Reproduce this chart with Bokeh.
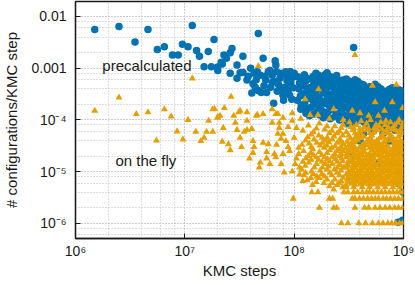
from bokeh.plotting import figure
from bokeh.models import Range1d, LogTicker, CustomJSTickFormatter, Label
from bokeh.embed import file_html
from bokeh.resources import INLINE

# ---------------- data ----------------
x_tick_values = [1e6, 1e7, 1e8, 1e9]
x_tick_labels = ["10\u2076", "10\u2077", "10\u2078", "10\u2079"]
y_tick_values = [1e-6, 1e-5, 1e-4, 1e-3, 1e-2]
y_tick_labels = ["10\u207b\u2076", "10\u207b\u2075", "10\u207b\u2074", "0.001", "0.01"]

# precalculated: sparse points at small step counts / high rates
pre_sparse = [(1.5e6, 5.6e-3), (2.5e6, 6.4e-3), (3.5e6, 3.2e-3), (4.6e6, 5.6e-3), (5.6e6, 2.3e-3),
              (6.5e6, 2.6e-3), (7.7e6, 1.8e-3), (8.7e6, 1.8e-3), (9.5e6, 2.9e-3), (1.07e7, 2.6e-3),
              (1.17e7, 6.7e-3), (1.28e7, 2.2e-3), (1.36e7, 1.7e-3), (1.5e7, 1.07e-3), (1.64e7, 2.1e-3),
              (1.75e7, 1.07e-3), (1.85e7, 3.6e-3), (2.0e7, 1.05e-3), (2.0e7, 9.0e-4), (2.15e7, 1.3e-3),
              (2.28e7, 1.8e-3), (2.7e7, 2.4e-3), (2.6e7, 2.0e-3), (2.4e7, 1.55e-3), (3.4e7, 1.7e-3),
              (4.7e7, 4.7e-3), (3.5e8, 2.5e-3), (2.2e7, 1.2e-3)]
# precalculated: 2e7 .. 1e8
pre_mid = [(2.6e7, 8.0e-4), (3.0e7, 1.15e-3), (3.4e7, 8.3e-4), (4.0e7, 1.0e-3), (5.2e7, 1.55e-3),
           (6.7e7, 1.4e-3), (6.8e7, 1.15e-3), (3.0e7, 6.4e-4), (3.7e7, 5.9e-4), (4.4e7, 4.3e-4),
           (4.1e7, 3.3e-4), (4.9e7, 7.3e-4), (5.5e7, 5.9e-4), (6.3e7, 7.3e-4), (6.1e7, 4.3e-4),
           (6.5e7, 2.1e-4), (7.4e7, 6.4e-4), (8.4e7, 7.3e-4), (8.2e7, 4.3e-4), (7.9e7, 3.0e-4),
           (9.3e7, 5.1e-4), (9.1e7, 3.0e-4), (5.6e7, 3.4e-4), (5.0e7, 3.4e-4), (4.7e7, 3.7e-4),
           (3.2e7, 8.2e-4), (6.0e7, 9.0e-4), (4.5e7, 6.0e-4), (5.3e7, 4.6e-4), (5.8e7, 8.5e-4),
           (6.6e7, 5.5e-4), (7.0e7, 3.6e-4), (7.7e7, 8.0e-4), (8.6e7, 5.8e-4), (8.8e7, 3.8e-4),
           (9.6e7, 6.5e-4), (9.8e7, 4.2e-4), (7.2e7, 4.8e-4), (8.0e7, 2.4e-4), (9.5e7, 2.5e-4),
           (4.3e7, 8.0e-4), (3.8e7, 7.0e-4), (8.4e7, 8.5e-4), (1.0e8, 8.0e-4),
           (7.8e7, 4.0e-4), (6.3e7, 5.3e-4), (5.4e7, 7.0e-4), (4.6e7, 8.5e-4), (4.2e7, 5.0e-4),
           (6.9e7, 8.5e-4), (8.8e7, 6.5e-4), (9.2e7, 8.5e-4)]
# precalculated: 1e8 .. 1e9 band
pre_band = [(1.08e8, 6.8e-4), (1.12e8, 5.2e-4), (1.1e8, 4.0e-4), (1.14e8, 2.9e-4), (1.07e8, 2.4e-4), (1.15e8, 1.6e-4),
            (1.24e8, 7.5e-4), (1.27e8, 5.6e-4), (1.22e8, 4.5e-4), (1.3e8, 3.4e-4), (1.25e8, 2.1e-4), (1.28e8, 1.35e-4),
            (1.42e8, 6.2e-4), (1.38e8, 4.2e-4), (1.45e8, 3.1e-4), (1.4e8, 2.6e-4), (1.43e8, 1.75e-4), (1.38e8, 1.2e-4),
            (1.58e8, 8.0e-4), (1.62e8, 5.4e-4), (1.6e8, 3.8e-4), (1.65e8, 2.8e-4), (1.57e8, 2.0e-4), (1.63e8, 1.45e-4),
            (1.8e8, 6.6e-4), (1.78e8, 4.6e-4), (1.84e8, 3.3e-4), (1.82e8, 2.3e-4), (1.76e8, 1.6e-4), (1.85e8, 1.1e-4),
            (2.0e8, 8.2e-4), (2.05e8, 5.6e-4), (1.98e8, 4.1e-4), (2.02e8, 2.7e-4), (2.08e8, 1.9e-4), (2.0e8, 1.3e-4),
            (2.3e8, 6.4e-4), (2.26e8, 4.8e-4), (2.34e8, 3.5e-4), (2.3e8, 2.5e-4), (2.25e8, 1.7e-4), (2.35e8, 1.15e-4),
            (2.6e8, 5.8e-4), (2.65e8, 4.2e-4), (2.58e8, 3.0e-4), (2.62e8, 2.2e-4), (2.68e8, 1.5e-4), (2.6e8, 1.0e-4),
            (3.0e8, 6.2e-4), (2.95e8, 4.6e-4), (3.05e8, 3.4e-4), (3.0e8, 2.4e-4), (2.92e8, 1.7e-4), (3.08e8, 1.2e-4),
            (3.4e8, 5.0e-4), (3.35e8, 3.8e-4), (3.45e8, 2.8e-4), (3.38e8, 2.0e-4), (3.42e8, 1.4e-4), (3.36e8, 9.5e-5),
            (3.8e8, 5.6e-4), (3.85e8, 4.2e-4), (3.76e8, 3.1e-4), (3.82e8, 2.2e-4), (3.9e8, 1.6e-4), (3.78e8, 1.1e-4),
            (4.3e8, 4.8e-4), (4.25e8, 3.6e-4), (4.35e8, 2.6e-4), (4.3e8, 1.9e-4), (4.22e8, 1.35e-4), (4.38e8, 9.0e-5),
            (4.9e8, 4.4e-4), (4.85e8, 3.3e-4), (4.95e8, 2.4e-4), (4.9e8, 1.7e-4), (4.8e8, 1.2e-4), (5.0e8, 8.2e-5),
            (5.5e8, 4.9e-4), (5.45e8, 3.6e-4), (5.6e8, 2.7e-4), (5.5e8, 1.9e-4), (5.58e8, 1.35e-4), (5.42e8, 9.5e-5),
            (6.2e8, 4.0e-4), (6.15e8, 3.0e-4), (6.3e8, 2.2e-4), (6.2e8, 1.55e-4), (6.1e8, 1.1e-4), (6.25e8, 7.5e-5),
            (7.0e8, 3.6e-4), (6.9e8, 2.6e-4), (7.1e8, 1.9e-4), (7.0e8, 1.35e-4), (6.95e8, 9.5e-5), (7.05e8, 6.5e-5),
            (7.9e8, 4.2e-4), (7.8e8, 3.1e-4), (8.0e8, 2.3e-4), (7.9e8, 1.6e-4), (7.85e8, 1.15e-4), (7.95e8, 8.0e-5),
            (8.9e8, 3.9e-4), (8.8e8, 2.9e-4), (9.0e8, 2.1e-4), (8.9e8, 1.5e-4), (8.85e8, 1.05e-4), (8.95e8, 7.2e-5),
            (9.7e8, 3.3e-4), (9.8e8, 2.4e-4), (9.75e8, 1.7e-4), (9.85e8, 1.2e-4), (9.7e8, 8.5e-5), (9.8e8, 6.0e-5),
            (1.67e8, 7.3e-4), (2.8e8, 5.9e-4), (3.6e8, 6.0e-4), (6.6e8, 3.0e-4)]
# precalculated: second, interleaved layer of the band
pre_band2 = [(1.17e8, 6.0e-4), (1.18e8, 3.2e-4), (1.16e8, 1.9e-4),
             (1.33e8, 6.3e-4), (1.34e8, 3.9e-4), (1.32e8, 2.6e-4), (1.33e8, 1.6e-4),
             (1.5e8, 7.0e-4), (1.51e8, 4.8e-4), (1.49e8, 3.3e-4), (1.5e8, 2.3e-4), (1.52e8, 1.3e-4),
             (1.7e8, 5.9e-4), (1.71e8, 4.1e-4), (1.69e8, 2.6e-4), (1.7e8, 1.8e-4), (1.72e8, 1.25e-4),
             (1.9e8, 7.4e-4), (1.91e8, 5.0e-4), (1.89e8, 3.7e-4), (1.9e8, 2.1e-4), (1.92e8, 1.4e-4),
             (2.15e8, 6.8e-4), (2.17e8, 4.4e-4), (2.13e8, 3.1e-4), (2.15e8, 2.2e-4), (2.16e8, 1.55e-4), (2.14e8, 1.05e-4),
             (2.45e8, 7.2e-4), (2.47e8, 5.3e-4), (2.43e8, 3.8e-4), (2.45e8, 2.7e-4), (2.46e8, 1.9e-4), (2.44e8, 1.3e-4),
             (2.8e8, 4.9e-4), (2.82e8, 3.6e-4), (2.78e8, 2.6e-4), (2.8e8, 1.8e-4), (2.81e8, 1.25e-4),
             (3.2e8, 5.6e-4), (3.22e8, 4.1e-4), (3.18e8, 3.0e-4), (3.2e8, 2.15e-4), (3.21e8, 1.55e-4), (3.19e8, 1.1e-4),
             (3.6e8, 4.7e-4), (3.62e8, 3.4e-4), (3.58e8, 2.5e-4), (3.6e8, 1.8e-4), (3.61e8, 1.25e-4), (3.59e8, 8.8e-5),
             (4.05e8, 5.0e-4), (4.07e8, 3.9e-4), (4.03e8, 2.8e-4), (4.05e8, 2.0e-4), (4.06e8, 1.45e-4), (4.04e8, 1.0e-4),
             (4.6e8, 4.2e-4), (4.62e8, 3.0e-4), (4.58e8, 2.2e-4), (4.6e8, 1.55e-4), (4.61e8, 1.1e-4), (4.59e8, 7.6e-5),
             (5.2e8, 4.0e-4), (5.22e8, 2.9e-4), (5.18e8, 2.1e-4), (5.2e8, 1.45e-4), (5.21e8, 1.02e-4), (5.19e8, 7.2e-5),
             (5.85e8, 4.4e-4), (5.87e8, 3.3e-4), (5.83e8, 2.4e-4), (5.85e8, 1.7e-4), (5.86e8, 1.2e-4), (5.84e8, 8.2e-5),
             (6.6e8, 3.6e-4), (6.62e8, 2.5e-4), (6.58e8, 1.8e-4), (6.6e8, 1.25e-4), (6.61e8, 8.8e-5), (6.59e8, 6.0e-5),
             (7.45e8, 3.9e-4), (7.47e8, 2.8e-4), (7.43e8, 2.05e-4), (7.45e8, 1.45e-4), (7.46e8, 1.0e-4), (7.44e8, 7.0e-5),
             (8.4e8, 3.5e-4), (8.42e8, 2.5e-4), (8.38e8, 1.8e-4), (8.4e8, 1.3e-4), (8.41e8, 9.0e-5), (8.39e8, 6.3e-5),
             (9.4e8, 3.7e-4), (9.42e8, 2.7e-4), (9.38e8, 1.95e-4), (9.4e8, 1.4e-4), (9.41e8, 1.0e-4), (9.39e8, 7.0e-5)]
# precalculated: points scattered inside the orange cloud
pre_low = [(3.0e8, 8.4e-5), (3.5e8, 2.0e-5), (4.3e8, 5.4e-5), (4.0e8, 3.9e-5), (5.3e8, 6.1e-5),
           (6.5e8, 5.4e-5), (7.4e8, 3.9e-5), (8.5e8, 2.9e-5), (9.4e8, 2.2e-5), (6.0e8, 1.5e-5),
           (7.9e8, 1.4e-5), (9.0e8, 5.9e-6), (8.9e8, 1.05e-6), (9.8e8, 1.15e-6), (3.2e8, 9.1e-6),
           (8.9e8, 9.1e-6), (9.9e8, 4.0e-6)]

# on the fly: sparse points at small step counts
fly_left = [(1.5e6, 1.5e-4), (2.5e6, 2.7e-4), (3.6e6, 1.3e-4), (4.6e6, 1.4e-4), (5.5e6, 4.0e-5),
            (6.5e6, 1.6e-4), (7.5e6, 1.17e-4), (8.5e6, 6.0e-5), (9.6e6, 4.2e-5), (1.07e7, 1.0e-4),
            (1.17e7, 6.3e-4), (1.26e7, 5.9e-5), (1.4e7, 3.9e-5), (1.5e7, 4.5e-5), (1.58e7, 5.9e-5),
            (1.65e7, 9.6e-5), (1.8e7, 1.6e-4), (1.8e7, 5.9e-5), (1.87e7, 1.63e-4)]
# on the fly: 2e7 .. 1.2e8
fly_mid = [(2.3e7, 1.7e-4), (2.65e7, 2.8e-4), (2.0e7, 1.1e-4), (2.1e7, 1.2e-4), (2.2e7, 3.8e-5),
           (2.25e7, 7.0e-5), (2.5e7, 3.4e-5), (2.6e7, 2.6e-5), (2.8e7, 1.2e-4), (2.9e7, 8.8e-5),
           (3.0e7, 6.4e-5), (3.1e7, 1.4e-4), (3.2e7, 4.5e-5), (3.3e7, 3.0e-5), (3.5e7, 5.9e-5),
           (3.7e7, 1.4e-4), (3.7e7, 6.4e-5), (4.1e7, 6.7e-5), (4.2e7, 3.9e-5), (4.3e7, 3.0e-5),
           (4.2e7, 2.3e-5), (3.9e7, 1.8e-5), (4.6e7, 1.25e-4), (4.9e7, 1.5e-5), (4.8e7, 1.2e-5),
           (5.2e7, 1.3e-4), (5.2e7, 3.6e-5), (5.8e7, 3.4e-5), (5.6e7, 2.4e-5), (5.6e7, 1.8e-5),
           (6.0e7, 1.4e-5), (6.3e7, 8.8e-5), (6.3e7, 1.6e-4), (6.6e7, 2.2e-5), (6.8e7, 1.3e-4),
           (6.8e7, 1.9e-5), (7.1e7, 5.4e-5), (7.3e7, 8.8e-5), (7.3e7, 7.0e-5), (7.6e7, 4.3e-5),
           (7.6e7, 1.4e-5), (8.1e7, 9.6e-6), (8.8e7, 7.3e-5), (8.8e7, 3.0e-5), (9.6e7, 9.6e-5),
           (9.6e7, 1.0e-5), (1.02e8, 1.4e-5), (1.05e8, 1.8e-5), (1.1e8, 2.2e-5), (1.12e8, 8.8e-6),
           (4.7e7, 1.1e-3), (7.9e7, 5.4e-5), (8.4e7, 3.9e-5), (9.1e7, 2.5e-5), (1.0e8, 4.5e-5),
           (1.05e8, 7.0e-5), (1.1e8, 2.9e-5), (1.12e8, 1.2e-5), (7.9e7, 2.2e-5), (6.9e7, 3.3e-5),
           (3.2e7, 1.5e-4), (3.7e7, 9.6e-5), (4.5e7, 1.2e-4), (7.9e7, 1.1e-4), (9.6e7, 1.35e-4),
           (1.15e8, 1.05e-4), (2.0e7, 1.15e-4), (7.1e7, 1.3e-4), (1.2e8, 6.6e-6)]
# on the fly: points lying on top of the blue band
fly_upper = [(3.6e8, 1.8e-3), (5.2e8, 4.6e-4), (8.6e8, 4.8e-4), (1.67e8, 3.9e-4), (1.26e8, 2.5e-4),
             (2.3e8, 1.6e-4), (3.4e8, 1.5e-4), (5.5e8, 2.2e-4), (6.7e8, 1.5e-4), (7.9e8, 2.2e-4),
             (1.4e8, 1.25e-4), (1.65e8, 1.25e-4), (2.1e8, 1.05e-4), (2.8e8, 1.0e-4), (4.0e8, 1.35e-4),
             (4.8e8, 1.2e-4), (5.9e8, 1.2e-4), (6.9e8, 9.6e-5), (8.9e8, 8.8e-5), (9.8e8, 1.7e-4),
             (3.2e8, 9.0e-5), (3.7e8, 8.0e-5), (4.1e8, 9.5e-5), (4.6e8, 8.5e-5), (5.0e8, 1.0e-4),
             (5.6e8, 8.0e-5), (6.2e8, 9.0e-5), (6.8e8, 8.0e-5), (7.6e8, 9.0e-5), (8.3e8, 8.0e-5),
             (9.1e8, 1.0e-4), (9.9e8, 8.5e-5), (3.5e8, 7.0e-5), (4.8e8, 6.8e-5), (6.4e8, 6.5e-5),
             (7.8e8, 6.6e-5), (9.4e8, 6.4e-5)]
# on the fly: 1.2e8 .. 3e8 cloud
fly_cloud = [(1.2e8, 6.2e-5), (1.18e8, 3.3e-5), (1.22e8, 2.5e-5), (1.2e8, 1.55e-5), (1.17e8, 1.1e-5), (1.23e8, 8.5e-6),
             (1.35e8, 7.8e-5), (1.33e8, 4.6e-5), (1.37e8, 3.5e-5), (1.34e8, 2.0e-5), (1.36e8, 1.5e-5), (1.32e8, 6.8e-6),
             (1.5e8, 5.8e-5), (1.52e8, 4.2e-5), (1.48e8, 2.7e-5), (1.5e8, 2.1e-5), (1.53e8, 1.2e-5), (1.5e8, 9.0e-6), (1.47e8, 5.5e-6),
             (1.7e8, 8.5e-5), (1.68e8, 5.0e-5), (1.72e8, 3.2e-5), (1.7e8, 2.4e-5), (1.67e8, 1.7e-5), (1.73e8, 1.05e-5), (1.7e8, 7.5e-6),
             (1.9e8, 6.5e-5), (1.92e8, 4.0e-5), (1.88e8, 2.9e-5), (1.9e8, 1.9e-5), (1.93e8, 1.4e-5), (1.9e8, 8.0e-6), (1.87e8, 6.0e-6),
             (2.1e8, 5.5e-5), (2.08e8, 3.7e-5), (2.12e8, 2.6e-5), (2.1e8, 1.6e-5), (2.07e8, 1.25e-5), (2.12e8, 9.5e-6), (2.1e8, 5.2e-6),
             (2.35e8, 7.5e-5), (2.32e8, 4.8e-5), (2.37e8, 3.1e-5), (2.35e8, 2.2e-5), (2.38e8, 1.75e-5), (2.33e8, 1.1e-5), (2.35e8, 7.0e-6),
             (2.6e8, 6.0e-5), (2.62e8, 4.2e-5), (2.58e8, 2.7e-5), (2.6e8, 2.0e-5), (2.63e8, 1.35e-5), (2.6e8, 8.5e-6), (2.57e8, 6.0e-6),
             (2.8e8, 8.0e-5), (2.78e8, 5.0e-5), (2.82e8, 3.4e-5), (2.8e8, 2.5e-5), (2.77e8, 1.6e-5), (2.82e8, 1.2e-5), (2.8e8, 7.6e-6), (2.78e8, 5.0e-6),
             (1.27e8, 4.0e-5), (1.28e8, 1.8e-5), (1.26e8, 1.3e-5), (1.27e8, 9.5e-6),
             (1.43e8, 5.2e-5), (1.44e8, 3.0e-5), (1.42e8, 2.3e-5), (1.43e8, 1.7e-5), (1.44e8, 1.0e-5), (1.42e8, 7.5e-6),
             (1.6e8, 6.8e-5), (1.61e8, 3.6e-5), (1.59e8, 1.9e-5), (1.6e8, 1.4e-5), (1.61e8, 8.0e-6), (1.59e8, 6.3e-6),
             (1.8e8, 4.5e-5), (1.81e8, 3.6e-5), (1.79e8, 2.1e-5), (1.8e8, 1.55e-5), (1.81e8, 1.2e-5), (1.79e8, 9.0e-6),
             (2.0e8, 7.5e-5), (2.01e8, 4.5e-5), (1.99e8, 3.2e-5), (2.0e8, 2.3e-5), (2.01e8, 1.75e-5), (1.99e8, 1.1e-5), (2.0e8, 7.0e-6),
             (2.22e8, 6.2e-5), (2.23e8, 4.2e-5), (2.21e8, 2.9e-5), (2.22e8, 1.9e-5), (2.23e8, 1.4e-5), (2.21e8, 8.5e-6), (2.22e8, 6.0e-6),
             (2.47e8, 5.5e-5), (2.48e8, 3.6e-5), (2.46e8, 2.5e-5), (2.47e8, 1.55e-5), (2.48e8, 1.2e-5), (2.46e8, 9.5e-6), (2.47e8, 5.5e-6),
             (2.7e8, 7.0e-5), (2.71e8, 3.8e-5), (2.69e8, 3.0e-5), (2.7e8, 2.2e-5), (2.71e8, 1.8e-5), (2.69e8, 1.05e-5), (2.7e8, 6.5e-6)]
# on the fly: dense block 3e8 .. 1e9
fly_dense = [(3.0e8, 5.8e-5), (3.05e8, 3.8e-5), (2.95e8, 2.8e-5), (3.02e8, 2.2e-5), (2.98e8, 1.9e-5), (3.04e8, 1.4e-5), (2.96e8, 1.2e-5), (3.0e8, 8.8e-6), (3.06e8, 7.0e-6), (2.97e8, 5.5e-6),
             (3.3e8, 7.3e-5), (3.27e8, 4.4e-5), (3.34e8, 3.5e-5), (3.3e8, 3.0e-5), (3.25e8, 2.4e-5), (3.32e8, 1.75e-5), (3.28e8, 1.5e-5), (3.35e8, 1.1e-5), (3.3e8, 9.2e-6), (3.26e8, 7.4e-6), (3.33e8, 5.8e-6),
             (3.6e8, 5.5e-5), (3.64e8, 4.6e-5), (3.57e8, 3.7e-5), (3.62e8, 2.85e-5), (3.58e8, 2.25e-5), (3.65e8, 1.85e-5), (3.6e8, 1.4e-5), (3.56e8, 1.18e-5), (3.63e8, 8.7e-6), (3.59e8, 7.1e-6), (3.61e8, 5.6e-6),
             (4.0e8, 6.8e-5), (3.95e8, 5.7e-5), (4.05e8, 4.4e-5), (3.98e8, 2.95e-5), (4.03e8, 2.3e-5), (3.96e8, 1.8e-5), (4.02e8, 1.47e-5), (4.06e8, 1.12e-5), (3.97e8, 9.1e-6), (4.0e8, 7.3e-6), (4.04e8, 5.7e-6),
             (4.4e8, 7.2e-5), (4.36e8, 4.7e-5), (4.45e8, 3.5e-5), (4.38e8, 2.8e-5), (4.42e8, 2.35e-5), (4.47e8, 1.78e-5), (4.35e8, 1.42e-5), (4.41e8, 1.16e-5), (4.46e8, 8.9e-6), (4.37e8, 7.0e-6), (4.43e8, 5.8e-6),
             (4.9e8, 5.5e-5), (4.95e8, 4.5e-5), (4.85e8, 3.7e-5), (4.92e8, 2.9e-5), (4.88e8, 2.2e-5), (4.96e8, 1.83e-5), (4.86e8, 1.46e-5), (4.91e8, 1.13e-5), (4.94e8, 9.1e-6), (4.87e8, 7.2e-6), (4.9e8, 5.6e-6),
             (5.4e8, 6.9e-5), (5.35e8, 5.8e-5), (5.45e8, 3.6e-5), (5.38e8, 3.0e-5), (5.42e8, 2.3e-5), (5.36e8, 1.8e-5), (5.46e8, 1.44e-5), (5.4e8, 1.17e-5), (5.37e8, 8.8e-6), (5.44e8, 7.3e-6), (5.39e8, 5.7e-6),
             (6.0e8, 7.4e-5), (6.05e8, 4.4e-5), (5.95e8, 3.6e-5), (6.02e8, 2.85e-5), (5.97e8, 2.25e-5), (6.06e8, 1.77e-5), (5.96e8, 1.48e-5), (6.03e8, 1.14e-5), (5.98e8, 9.0e-6), (6.04e8, 7.1e-6), (6.0e8, 5.8e-6),
             (6.6e8, 5.6e-5), (6.55e8, 4.6e-5), (6.65e8, 3.7e-5), (6.58e8, 2.9e-5), (6.62e8, 2.4e-5), (6.56e8, 1.86e-5), (6.67e8, 1.43e-5), (6.6e8, 1.15e-5), (6.54e8, 9.2e-6), (6.63e8, 7.2e-6), (6.59e8, 5.6e-6),
             (7.3e8, 7.1e-5), (7.25e8, 5.5e-5), (7.36e8, 4.5e-5), (7.28e8, 2.95e-5), (7.34e8, 2.28e-5), (7.26e8, 1.8e-5), (7.33e8, 1.45e-5), (7.29e8, 1.12e-5), (7.37e8, 8.9e-6), (7.24e8, 7.4e-6), (7.31e8, 5.7e-6),
             (8.1e8, 6.8e-5), (8.05e8, 4.4e-5), (8.15e8, 3.5e-5), (8.08e8, 2.8e-5), (8.12e8, 2.3e-5), (8.04e8, 1.84e-5), (8.14e8, 1.46e-5), (8.1e8, 1.16e-5), (8.06e8, 9.1e-6), (8.13e8, 7.0e-6), (8.09e8, 5.8e-6),
             (8.9e8, 5.8e-5), (8.95e8, 4.7e-5), (8.85e8, 3.6e-5), (8.92e8, 2.9e-5), (8.87e8, 2.2e-5), (8.96e8, 1.79e-5), (8.86e8, 1.44e-5), (8.93e8, 1.13e-5), (8.88e8, 8.8e-6), (8.94e8, 7.2e-6), (8.9e8, 5.6e-6),
             (9.7e8, 7.3e-5), (9.65e8, 5.6e-5), (9.75e8, 3.7e-5), (9.68e8, 3.0e-5), (9.72e8, 2.35e-5), (9.66e8, 1.82e-5), (9.74e8, 1.47e-5), (9.7e8, 1.15e-5), (9.67e8, 9.0e-6), (9.73e8, 7.3e-6), (9.69e8, 5.7e-6)]
# on the fly: interleaved second layer of the dense block
fly_dense2 = [(3.15e8, 5.0e-5), (3.16e8, 3.25e-5), (3.14e8, 2.6e-5), (3.15e8, 2.05e-5), (3.16e8, 1.62e-5), (3.14e8, 1.3e-5), (3.15e8, 1.02e-5), (3.16e8, 8.0e-6), (3.14e8, 6.4e-6),
              (3.45e8, 6.3e-5), (3.46e8, 4.0e-5), (3.44e8, 3.25e-5), (3.45e8, 2.6e-5), (3.46e8, 2.05e-5), (3.44e8, 1.62e-5), (3.45e8, 1.3e-5), (3.46e8, 1.02e-5), (3.44e8, 8.0e-6), (3.45e8, 6.4e-6),
              (3.8e8, 5.0e-5), (3.81e8, 4.0e-5), (3.79e8, 2.6e-5), (3.8e8, 2.05e-5), (3.81e8, 1.62e-5), (3.79e8, 1.3e-5), (3.8e8, 1.02e-5), (3.81e8, 8.0e-6), (3.79e8, 6.4e-6),
              (4.2e8, 6.3e-5), (4.21e8, 5.0e-5), (4.19e8, 3.25e-5), (4.2e8, 2.6e-5), (4.21e8, 2.05e-5), (4.19e8, 1.62e-5), (4.2e8, 1.3e-5), (4.21e8, 1.02e-5), (4.19e8, 8.0e-6), (4.2e8, 6.4e-6),
              (4.65e8, 6.3e-5), (4.66e8, 4.0e-5), (4.64e8, 3.25e-5), (4.65e8, 2.05e-5), (4.66e8, 1.62e-5), (4.64e8, 1.3e-5), (4.65e8, 1.02e-5), (4.66e8, 8.0e-6), (4.64e8, 6.4e-6),
              (5.15e8, 5.0e-5), (5.16e8, 4.0e-5), (5.14e8, 3.25e-5), (5.15e8, 2.6e-5), (5.16e8, 2.05e-5), (5.14e8, 1.62e-5), (5.15e8, 1.3e-5), (5.16e8, 1.02e-5), (5.14e8, 8.0e-6), (5.15e8, 6.4e-6),
              (5.7e8, 6.3e-5), (5.71e8, 4.0e-5), (5.69e8, 3.25e-5), (5.7e8, 2.6e-5), (5.71e8, 2.05e-5), (5.69e8, 1.3e-5), (5.7e8, 1.02e-5), (5.71e8, 8.0e-6), (5.69e8, 6.4e-6),
              (6.3e8, 5.0e-5), (6.31e8, 3.25e-5), (6.29e8, 2.6e-5), (6.3e8, 2.05e-5), (6.31e8, 1.62e-5), (6.29e8, 1.3e-5), (6.3e8, 1.02e-5), (6.31e8, 8.0e-6), (6.29e8, 6.4e-6),
              (6.95e8, 6.3e-5), (6.96e8, 4.0e-5), (6.94e8, 3.25e-5), (6.95e8, 2.6e-5), (6.96e8, 2.05e-5), (6.94e8, 1.62e-5), (6.95e8, 1.3e-5), (6.96e8, 1.02e-5), (6.94e8, 8.0e-6), (6.95e8, 6.4e-6),
              (7.7e8, 5.0e-5), (7.71e8, 4.0e-5), (7.69e8, 2.6e-5), (7.7e8, 2.05e-5), (7.71e8, 1.62e-5), (7.69e8, 1.3e-5), (7.7e8, 1.02e-5), (7.71e8, 8.0e-6), (7.69e8, 6.4e-6),
              (8.5e8, 6.3e-5), (8.51e8, 4.0e-5), (8.49e8, 3.25e-5), (8.5e8, 2.6e-5), (8.51e8, 2.05e-5), (8.49e8, 1.62e-5), (8.5e8, 1.3e-5), (8.51e8, 1.02e-5), (8.49e8, 8.0e-6), (8.5e8, 6.4e-6),
              (9.3e8, 5.0e-5), (9.31e8, 4.0e-5), (9.29e8, 3.25e-5), (9.3e8, 2.6e-5), (9.31e8, 2.05e-5), (9.29e8, 1.62e-5), (9.3e8, 1.3e-5), (9.31e8, 1.02e-5), (9.29e8, 8.0e-6), (9.3e8, 6.4e-6)]
# on the fly: quantised rows at 1..5 configurations per 1e6 steps
fly_rows = [(2.7e8, 1e-6), (3.1e8, 1e-6), (3.9e8, 1e-6), (4.5e8, 1e-6), (5.2e8, 1e-6), (5.9e8, 1e-6),
            (6.5e8, 1e-6), (7.2e8, 1e-6), (7.8e8, 1e-6), (8.5e8, 1e-6), (9.2e8, 1e-6), (9.8e8, 1e-6),
            (1.7e8, 2e-6), (2.3e8, 2e-6), (2.45e8, 2e-6), (3.6e8, 2e-6), (4.4e8, 2e-6), (4.8e8, 2e-6),
            (5.5e8, 2e-6), (6.1e8, 2e-6), (6.8e8, 2e-6), (7.5e8, 2e-6), (8.3e8, 2e-6), (9.0e8, 2e-6), (9.8e8, 2e-6),
            (9.8e7, 3e-6), (2.1e8, 3e-6), (2.25e8, 3e-6), (3.4e8, 3e-6), (3.6e8, 3e-6), (3.95e8, 3e-6),
            (4.3e8, 3e-6), (4.7e8, 3e-6), (5.1e8, 3e-6), (5.5e8, 3e-6), (5.9e8, 3e-6), (6.5e8, 3e-6),
            (7.0e8, 3e-6), (7.6e8, 3e-6), (8.3e8, 3e-6), (9.0e8, 3e-6), (9.8e8, 3e-6),
            (1.45e8, 4e-6), (1.65e8, 4e-6), (2.85e8, 4e-6), (3.1e8, 4e-6), (3.5e8, 4e-6), (3.8e8, 4e-6),
            (4.2e8, 4e-6), (4.6e8, 4e-6), (4.9e8, 4e-6), (5.3e8, 4e-6), (5.8e8, 4e-6), (6.3e8, 4e-6),
            (6.8e8, 4e-6), (7.4e8, 4e-6), (8.0e8, 4e-6), (8.7e8, 4e-6), (9.3e8, 4e-6), (9.9e8, 4e-6),
            (2.3e8, 4.5e-6), (3.0e8, 5e-6), (3.5e8, 5e-6), (4.2e8, 5e-6), (4.9e8, 5e-6), (5.8e8, 5e-6),
            (6.8e8, 5e-6), (8.0e8, 5e-6), (9.3e8, 5e-6)]

pre_pts = pre_sparse + pre_mid + pre_band + pre_band2 + pre_low
fly_pts = fly_left + fly_mid + fly_upper + fly_cloud + fly_dense + fly_dense2 + fly_rows
pre_x = [a for a, b in pre_pts]
pre_y = [b for a, b in pre_pts]
fly_x = [a for a, b in fly_pts]
fly_y = [b for a, b in fly_pts]

BLUE = "#0072B2"
ORANGE = "#E69F00"
FONT = "Liberation Sans"
INK = "#1a1a1a"

p = figure(width=415, height=285, x_axis_type="log", y_axis_type="log",
           x_range=Range1d(1e6, 1e9), y_range=Range1d(5.08e-7, 1.95e-2),
           output_backend="svg", toolbar_location=None,
           min_border_left=68, min_border_right=12, min_border_top=1, min_border_bottom=47)
p.background_fill_color = "white"
p.border_fill_color = "white"
p.outline_line_color = INK
p.outline_line_width = 1.3
p.outline_line_alpha = 1.0

p.scatter(pre_x, pre_y, marker="circle", size=7.5, fill_color=BLUE, line_color=None)
p.scatter(fly_x, fly_y, marker="triangle", size=7, fill_color=ORANGE, line_color=None)

p.xaxis.ticker = LogTicker(desired_num_ticks=4)
p.yaxis.ticker = LogTicker(desired_num_ticks=6)

fmt_code = """
let best = 0, bd = 1e9;
for (let i = 0; i < vals.length; i++) {
  const d = Math.abs(Math.log10(tick) - Math.log10(vals[i]));
  if (d < bd) { bd = d; best = i; }
}
return bd < 0.01 ? labs[best] : "";
"""
p.xaxis.formatter = CustomJSTickFormatter(args=dict(vals=x_tick_values, labs=x_tick_labels), code=fmt_code)
p.yaxis.formatter = CustomJSTickFormatter(args=dict(vals=y_tick_values, labs=y_tick_labels), code=fmt_code)

for ax in (p.xaxis[0], p.yaxis[0]):
    ax.axis_line_color = INK
    ax.axis_line_width = 1.3
    ax.major_tick_in = 5
    ax.major_tick_out = 0
    ax.major_tick_line_color = INK
    ax.minor_tick_line_color = None
    ax.major_label_text_font = FONT
    ax.major_label_text_font_size = "14px"
    ax.major_label_text_color = INK
    ax.axis_label_text_font = FONT
    ax.axis_label_text_font_size = "15px"
    ax.axis_label_text_font_style = "normal"
    ax.axis_label_text_color = INK

p.xaxis.axis_label = "KMC steps"
p.xaxis.major_label_standoff = 0
p.xaxis.axis_label_standoff = 0
p.yaxis.axis_label = "# configurations/KMC step"
p.yaxis.major_label_standoff = 5
p.yaxis.axis_label_standoff = 8

for g in (p.xgrid[0], p.ygrid[0]):
    g.grid_line_color = "#bdbdbd"
    g.grid_line_dash = "1 2"
    g.grid_line_width = 1
    g.minor_grid_line_color = "#bdbdbd"
    g.minor_grid_line_dash = "1 2"
    g.minor_grid_line_width = 1

p.add_layout(Label(x=4.5e6, y=1.12e-3, text="precalculated", text_align="center",
                   text_baseline="middle", text_font=FONT, text_font_size="15px",
                   text_color=INK))
p.add_layout(Label(x=4.4e6, y=1.64e-5, text="on the fly", text_align="center",
                   text_baseline="middle", text_font=FONT, text_font_size="15px",
                   text_color=INK))

open("out.html", "w").write(file_html(p, INLINE))
